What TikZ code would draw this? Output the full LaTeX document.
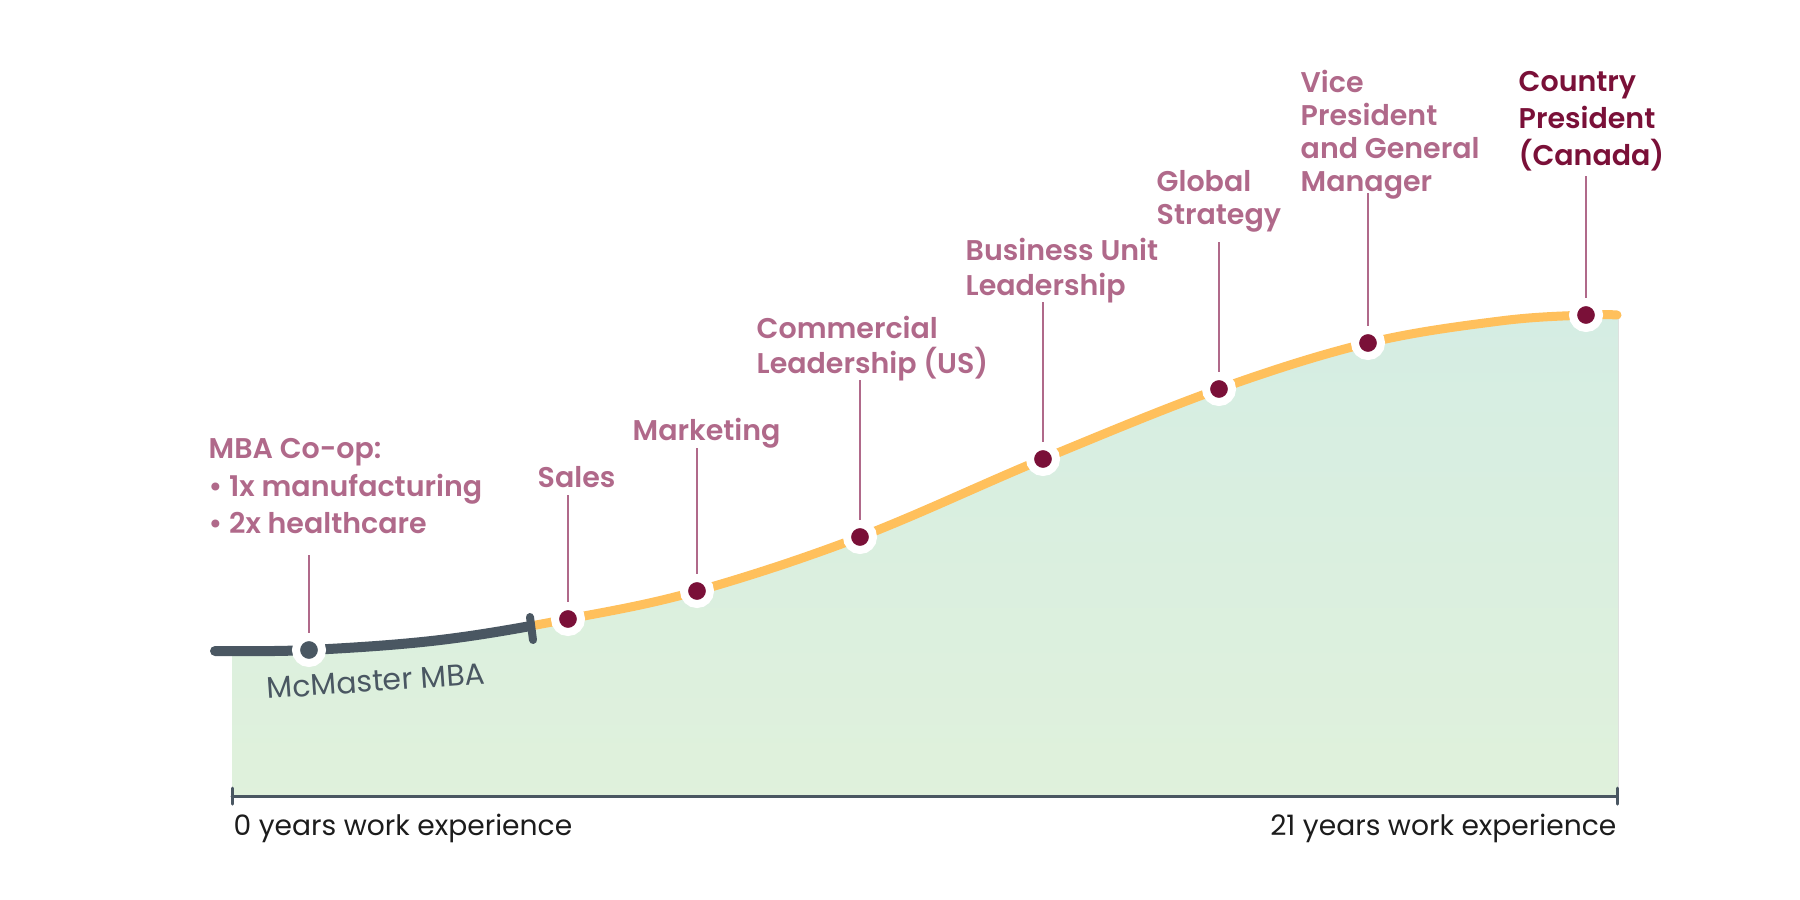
\documentclass[tikz,border=0pt]{standalone}
\usepackage{fontspec}
\setmainfont{Poppins}[BoldFont={Poppins SemiBold}]
\definecolor{lab}{HTML}{B0698A}
\definecolor{dotc}{HTML}{7A1038}
\definecolor{orng}{HTML}{FFC05C}
\definecolor{slate}{HTML}{4A5762}
\definecolor{mintA}{HTML}{D5EDE3}
\definecolor{mintB}{HTML}{E2F2DA}
\definecolor{axtext}{HTML}{1C1C1C}
\begin{document}
\begin{tikzpicture}[x=0.01cm,y=-0.01cm,
  lbl/.style={font=\fontsize{8.1}{10}\selectfont\bfseries, text=lab, align=left, inner sep=0, anchor=north west},
  dot/.style={circle, fill=dotc, draw=white, line width=0.08cm, minimum size=0.26cm, inner sep=0, outer sep=0.04cm},
  conn/.style={draw=lab, line width=0.02cm},
  axlbl/.style={font=\fontsize{8}{10}\selectfont, text=axtext, inner sep=0},
  axline/.style={draw=slate, line width=0.03cm, line cap=round}]
\useasboundingbox (0,0) rectangle (1800,900);
% filled area
\begin{scope}
  \clip (232,0) rectangle (1618,796);
  \fill[top color=mintA, bottom color=mintB]
    plot[smooth, tension=0.6] coordinates {(215,651) (309,650) (440,640) (568,619) (697,591) (860,537) (1043,459) (1219,389) (1368,343) (1500,321) (1586,315) (1620,315)}
    -- (1640,900) -- (200,900) -- cycle;
\end{scope}
% gray part of the curve
\begin{scope}
  \clip (0,0) rectangle (532,900);
  \draw[slate, line width=0.1cm, line cap=round]
    plot[smooth, tension=0.6] coordinates {(215,651) (309,650) (440,640) (568,619) (697,591) (860,537) (1043,459) (1219,389) (1368,343) (1500,321) (1586,315) (1617,315)};
\end{scope}
% orange part of the curve
\begin{scope}
  \clip (532,0) rectangle (1800,900);
  \draw[orng, line width=0.09cm, line cap=round]
    plot[smooth, tension=0.6] coordinates {(215,651) (309,650) (440,640) (568,619) (697,591) (860,537) (1043,459) (1219,389) (1368,343) (1500,321) (1586,315) (1617,315)};
\end{scope}
\draw[slate, line width=0.08cm, line cap=round] (530,617) -- (533,640);
% axis
\coordinate (ax0) at (232,796);
\coordinate (ax1) at (1617,796);
\draw[axline] (ax0) -- (ax1);
\draw[axline] (232,788) -- (232,804);
\draw[axline] (1617,788) -- (1617,804);
\node[axlbl, anchor=base west] (l0) at (233,835) {0 years work experience};
\node[axlbl, anchor=base east] (l21) at (1617,835) {21 years work experience};
% dots
\node[dot, fill=slate] (mcm) at (309,650) {};
\node[dot] (sales) at (568,619) {};
\node[dot] (mkt) at (697,591) {};
\node[dot] (com) at (860,537) {};
\node[dot] (bu) at (1043,459) {};
\node[dot] (glob) at (1219,389) {};
\node[dot] (vp) at (1368,343) {};
\node[dot] (cp) at (1586,315) {};
% McMaster label
\node[font=\fontsize{8.5}{10}\selectfont, text=slate, rotate=4, inner sep=0] (mcmlbl) at (376,681) {McMaster MBA};
% labels
\node[lbl, font=\fontsize{8.1}{10.6}\selectfont\bfseries] (mbaL) at (208,438) {MBA Co-op:\\• 1x manufacturing\\• 2x healthcare};
\node[lbl] (salesL) at (537,466) {Sales};
\node[lbl] (mktL) at (632,417) {Marketing};
\node[lbl] (comL) at (756,315) {Commercial\\Leadership (US)};
\node[lbl] (buL) at (965,237) {Business Unit\\Leadership};
\node[lbl, font=\fontsize{8.1}{9.4}\selectfont\bfseries] (globL) at (1156,170) {Global\\Strategy};
\node[lbl, font=\fontsize{8.1}{9.4}\selectfont\bfseries] (vpL) at (1300,69) {Vice\\President\\and General\\Manager};
\node[lbl, text=dotc, font=\fontsize{8.1}{10.5}\selectfont\bfseries] (cpL) at (1518,71) {Country\\President\\(Canada)};
% connector tops
\coordinate (mbaT) at (309,555);
\coordinate (salesT) at (568,495);
\coordinate (mktT) at (697,448);
\coordinate (comT) at (860,380);
\coordinate (buT) at (1043,302);
\coordinate (globT) at (1219,242);
\coordinate (vpT) at (1368,193);
\coordinate (cpT) at (1586,176);
\draw[conn] (mbaT) -- (mcm);
\draw[conn] (salesT) -- (sales);
\draw[conn] (mktT) -- (mkt);
\draw[conn] (comT) -- (com);
\draw[conn] (buT) -- (bu);
\draw[conn] (globT) -- (glob);
\draw[conn] (vpT) -- (vp);
\draw[conn] (cpT) -- (cp);
\end{tikzpicture}
\end{document}
